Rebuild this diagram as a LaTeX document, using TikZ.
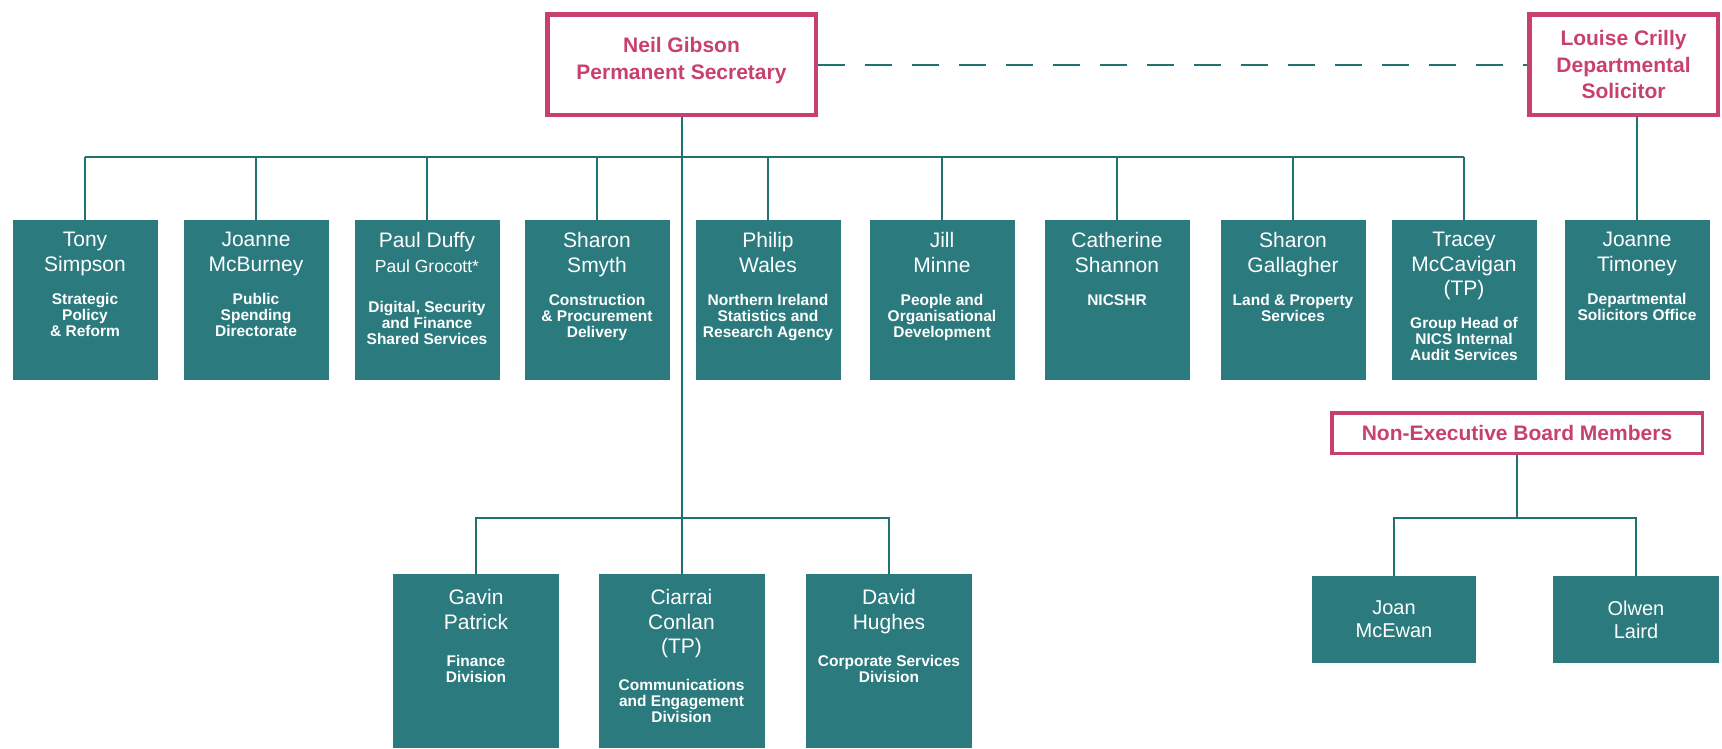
\documentclass[tikz,border=0pt]{standalone}
\usepackage{fontspec}
\setmainfont{Liberation Sans}
\usetikzlibrary{positioning}

\definecolor{dfpteal}{RGB}{42,122,126}
\definecolor{dfpline}{RGB}{30,114,114}
\definecolor{dfppink}{RGB}{200,64,110}

\newlength\stafftop
\setlength\stafftop{12.5pt}
\newcommand\namefont{\fontsize{21}{24.5}\selectfont}
\newcommand\descfont{\bfseries\fontsize{15.5}{16}\selectfont}
% #1 extra gap, #2 width, #3 height, #4 names, #5 unit
\newcommand\staff[5][0pt]{%
  \parbox[c][#3][t]{#2}{\centering
    \vspace*{\stafftop}{\namefont #4\par}%
    \vspace{\dimexpr17pt+#1\relax}{\descfont #5\par}}}

\tikzset{
  unit/.style={fill=dfpteal, text=white, inner sep=0pt, outer sep=0pt, anchor=north},
  head/.style={draw=dfppink, line width=4.5pt, text=dfppink, align=center, inner sep=0pt,
    font=\bfseries\fontsize{21}{26.5}\selectfont},
  link/.style={draw=dfpline, line width=2pt},
  member/.style={fill=dfpteal, text=white, align=center, inner sep=0pt, outer sep=0pt,
    minimum height=87pt, font=\fontsize{20}{23}\selectfont},
}

\begin{document}
\begin{tikzpicture}[x=1pt,y=1pt,yscale=-1]
\useasboundingbox (0,0) rectangle (1722,748);

% Heads
\node[head] (neil) at (681.5,64.5) {\parbox[c][100.5pt][c]{268.5pt}{\centering Neil Gibson\\Permanent Secretary\par\vspace{8pt}}};
\node[head, minimum width=188.5pt, minimum height=100.5pt] (louise) at (1623.5,64.5) {Louise Crilly\\Departmental\\Solicitor};
\node[head, line width=3.5pt, minimum width=370.5pt, minimum height=40.5pt] (nonexec) at (1517,433) {Non-Executive Board Members};

% Top row
\node[unit] (tony) at (85,220) {\staff{145pt}{160pt}{Tony\\Simpson}{Strategic\\Policy\\\& Reform}};
\node[unit] (jmcb) at (256,220) {\staff{145pt}{160pt}{Joanne\\McBurney}{Public\\Spending\\Directorate}};
\node[unit] (duffy) at (427,220) {\staff[7pt]{145pt}{160pt}{Paul Duffy\\{\fontsize{17.5}{24.5}\selectfont Paul Grocott*}}{Digital, Security\\and Finance\\Shared Services}};
\node[unit] (smyth) at (597,220) {\staff{145pt}{160pt}{Sharon\\Smyth}{Construction\\\& Procurement\\Delivery}};
\node[unit] (wales) at (768,220) {\staff{145pt}{160pt}{Philip\\Wales}{Northern Ireland\\Statistics and\\Research Agency}};
\node[unit] (minne) at (942,220) {\staff{145pt}{160pt}{Jill\\Minne}{People and\\Organisational\\Development}};
\node[unit] (shannon) at (1117,220) {\staff{145pt}{160pt}{Catherine\\Shannon}{NICSHR}};
\node[unit] (gallagher) at (1293,220) {\staff{145pt}{160pt}{Sharon\\Gallagher}{Land \& Property\\Services}};
\node[unit] (mccavigan) at (1464,220) {\staff{145pt}{160pt}{Tracey\\McCavigan\\(TP)}{Group Head of\\NICS Internal\\Audit Services}};
\node[unit] (jtim) at (1637,220) {\staff{145pt}{160pt}{Joanne\\Timoney}{Departmental\\Solicitors Office}};

% Bottom row
\setlength\stafftop{15.5pt}
\node[unit] (gavin) at (476,574) {\staff[4pt]{166pt}{174pt}{Gavin\\Patrick}{Finance\\Division}};
\node[unit] (ciarrai) at (681.5,574) {\staff[4pt]{166pt}{174pt}{Ciarrai\\Conlan\\(TP)}{Communications\\and Engagement\\Division}};
\node[unit] (david) at (889,574) {\staff[4pt]{166pt}{174pt}{David\\Hughes}{Corporate Services\\Division}};

% Board members
\node[member, minimum width=164pt] (joan) at (1394,619.5) {Joan\\McEwan};
\node[member, minimum width=166pt] (olwen) at (1636,619.5) {Olwen\\Laird};

% Connectors
\coordinate (topbar) at (681.5,157);
\coordinate (lowbar) at (681.5,518);
\coordinate (nebar) at (1517,518);
\draw[link] (neil.south) -- (ciarrai.north);
\draw[link] (tony.north |- topbar) -- (mccavigan.north |- topbar);
\foreach \n in {tony,jmcb,duffy,smyth,wales,minne,shannon,gallagher,mccavigan}
  \draw[link] (\n.north) -- (\n.north |- topbar);
\draw[link] (gavin.north) |- (lowbar) -| (david.north);
\draw[link] (jtim.north) -- (jtim.north |- louise.south);
\draw[link, dash pattern=on 27pt off 20pt] (neil.east) -- (louise.west);
\draw[link] (nonexec.south) -- (nonexec.south |- nebar);
\draw[link] (joan.north) |- (nebar) -| (olwen.north);

\end{tikzpicture}
\end{document}
